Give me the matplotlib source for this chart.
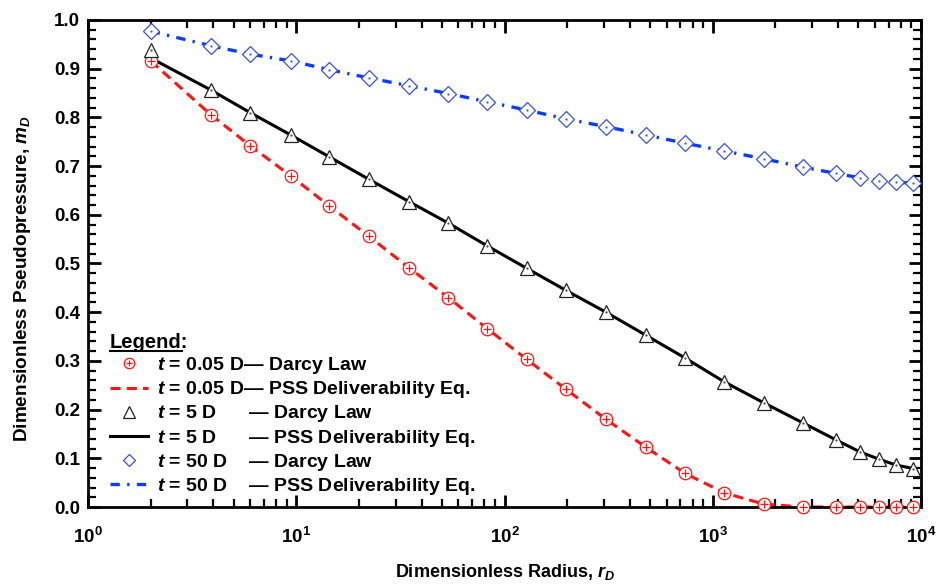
import matplotlib
matplotlib.use("Agg")
import matplotlib.pyplot as plt
from matplotlib.lines import Line2D
from matplotlib.legend_handler import HandlerTuple
from matplotlib.ticker import LogLocator, MultipleLocator, NullFormatter, FormatStrFormatter

plt.rcParams.update({
    "font.family": ["Liberation Sans", "DejaVu Sans"],
    "font.weight": "bold",
    "axes.labelweight": "bold",
    "mathtext.fontset": "custom",
    "mathtext.rm": "Liberation Sans:bold",
    "mathtext.it": "Liberation Sans:italic:bold",
    "mathtext.bf": "Liberation Sans:bold",
})

# Dimensionless radius of the sample points
r_d = [2.0, 3.9, 6.0, 9.4, 14.4, 22.3, 34.8, 53.7, 82.7, 128, 197, 307, 476,
       736, 1136, 1757, 2703, 3900, 5100, 6300, 7600, 9200]

# t = 0.05 D
darcy_005 = [0.916, 0.805, 0.742, 0.680, 0.618, 0.556, 0.491, 0.430, 0.366, 0.303,
             0.242, 0.180, 0.123, 0.069, 0.029, 0.006, 0.0, 0.0, 0.0, 0.0, 0.0, 0.0]
pss_005 = [0.916, 0.805, 0.742, 0.680, 0.618, 0.556, 0.491, 0.430, 0.366, 0.303,
           0.242, 0.180, 0.123, 0.069, 0.029, 0.006, 0.0, 0.0, 0.0, 0.0, 0.0, 0.0]

# t = 5 D
darcy_5 = [0.938, 0.856, 0.810, 0.764, 0.719, 0.673, 0.627, 0.583, 0.536, 0.490,
           0.445, 0.400, 0.353, 0.306, 0.257, 0.214, 0.173, 0.138, 0.113, 0.098, 0.086, 0.079]
pss_5 = [0.922, 0.856, 0.810, 0.764, 0.719, 0.673, 0.627, 0.583, 0.536, 0.490,
         0.445, 0.400, 0.353, 0.306, 0.257, 0.214, 0.173, 0.138, 0.113, 0.098, 0.086, 0.079]

# t = 50 D
darcy_50 = [0.977, 0.947, 0.930, 0.916, 0.898, 0.881, 0.865, 0.849, 0.832, 0.815,
            0.797, 0.781, 0.764, 0.747, 0.731, 0.715, 0.698, 0.685, 0.676, 0.670, 0.667, 0.665]
pss_50 = [0.977, 0.947, 0.930, 0.916, 0.898, 0.881, 0.865, 0.849, 0.832, 0.815,
          0.797, 0.781, 0.764, 0.747, 0.731, 0.715, 0.698, 0.685, 0.676, 0.670, 0.667, 0.665]

labels = [
    "$t$ = 0.05 D\u2014 Darcy Law",
    "$t$ = 0.05 D\u2014 PSS Deliverability Eq.",
    "$t$ = 5 D      \u2014 Darcy Law",
    "$t$ = 5 D      \u2014 PSS Deliverability Eq.",
    "$t$ = 50 D    \u2014 Darcy Law",
    "$t$ = 50 D    \u2014 PSS Deliverability Eq.",
]

RED = "#FF1414"
BLACK = "#000000"
BLUE_LINE = "#0A3CFF"
BLUE_MK = "#3A4FE0"
TRI_EDGE = "#222222"

fig = plt.figure(figsize=(9.4, 5.84), dpi=100)
ax = fig.add_axes([88 / 940, 1 - 507 / 584, 833 / 940, 487 / 584])

red_dash = (3.3, 2.0)
blue_dashdot = (2.8, 2.2, 0.7, 2.2)

# PSS deliverability curves
ax.plot(r_d, pss_005, color=RED, lw=2.2, dashes=red_dash, zorder=2)
ax.plot(r_d, pss_5, color=BLACK, lw=2.2, zorder=2)
ax.plot(r_d, pss_50, color=BLUE_LINE, lw=2.4, dashes=blue_dashdot, zorder=2)

# Darcy law points
mk = dict(ls="none", clip_on=False, zorder=4)
ax.plot(r_d, darcy_005, marker="o", ms=9, mfc="white", mec=RED, mew=0.9, **mk)
ax.plot(r_d, darcy_005, marker="+", ms=6, mec=RED, mew=0.9, ls="none", clip_on=False, zorder=5)
ax.plot(r_d, darcy_5, marker="^", ms=10, mfc="white", mec=TRI_EDGE, mew=0.9, **mk)
ax.plot(r_d, darcy_5, marker=".", ms=1.2, color="#444444", ls="none", clip_on=False, zorder=5)
ax.plot(r_d, darcy_50, marker="D", ms=7.8, mfc="white", mec=BLUE_MK, mew=0.9, **mk)
ax.plot(r_d, darcy_50, marker=".", ms=1.2, color=BLUE_MK, ls="none", clip_on=False, zorder=5)

ax.set_xscale("log")
ax.set_xlim(1, 1e4)
ax.set_ylim(0, 1.0)
ax.xaxis.set_major_locator(LogLocator(base=10, numticks=10))
ax.xaxis.set_minor_locator(LogLocator(base=10, subs=range(2, 10), numticks=20))
ax.xaxis.set_minor_formatter(NullFormatter())
ax.yaxis.set_major_locator(MultipleLocator(0.1))
ax.yaxis.set_minor_locator(MultipleLocator(0.02))
ax.yaxis.set_major_formatter(FormatStrFormatter("%.1f"))

for s in ax.spines.values():
    s.set_linewidth(2.0)
ax.tick_params(which="both", direction="in", top=True, right=True, labelsize=13.5)
ax.tick_params(which="major", length=9, width=2.0)
ax.tick_params(which="minor", length=5.5, width=1.6)
ax.tick_params(axis="x", which="major", pad=14)
ax.tick_params(axis="y", which="major", pad=5.5)

ax.set_xlabel("Dimensionless Radius, $r_D$", fontsize=13, labelpad=11)
ax.set_ylabel("Dimensionless Pseudopressure, $m_D$", fontsize=13.7)
ax.yaxis.set_label_coords(-0.066, 0.47)

# Legend
h_circ = (Line2D([], [], ls="none", marker="o", ms=7.5, mfc="white", mec=RED, mew=0.9),
          Line2D([], [], ls="none", marker="+", ms=5, mec=RED, mew=0.9))
h_red = Line2D([], [], color=RED, lw=2.2, dashes=red_dash)
h_tri = Line2D([], [], ls="none", marker="^", ms=8, mfc="white", mec=TRI_EDGE, mew=0.9)
h_blk = Line2D([], [], color=BLACK, lw=2.2)
h_dia = Line2D([], [], ls="none", marker="D", ms=6.2, mfc="white", mec=BLUE_MK, mew=0.9)
h_blu = Line2D([], [], color=BLUE_LINE, lw=2.4, dashes=blue_dashdot)

leg = ax.legend([h_circ, h_red, h_tri, h_blk, h_dia, h_blu], labels,
                loc="upper left", bbox_to_anchor=(0.0264, 0.357),
                frameon=False, fontsize=14, handlelength=1.95, handletextpad=0.46,
                labelspacing=0.16, borderaxespad=0, borderpad=0, numpoints=1,
                title="Legend:", title_fontproperties={"weight": "bold", "size": 14.5},
                alignment="left", handler_map={tuple: HandlerTuple(ndivide=1)})

# Underline the word "Legend" in the legend title
fig.canvas.draw()
renderer = fig.canvas.get_renderer()
title = leg.get_title()
tb = title.get_window_extent(renderer)
probe = fig.text(0, 0, "Legend", fontsize=14.5, fontweight="bold")
pw = probe.get_window_extent(renderer).width
probe.remove()
W, H = fig.bbox.width, fig.bbox.height
uy = tb.y0 + 1.5
fig.add_artist(Line2D([tb.x0 / W, (tb.x0 + pw) / W], [uy / H, uy / H],
                      transform=fig.transFigure, color="black", lw=1.5))

fig.savefig("out.png", dpi=100)
